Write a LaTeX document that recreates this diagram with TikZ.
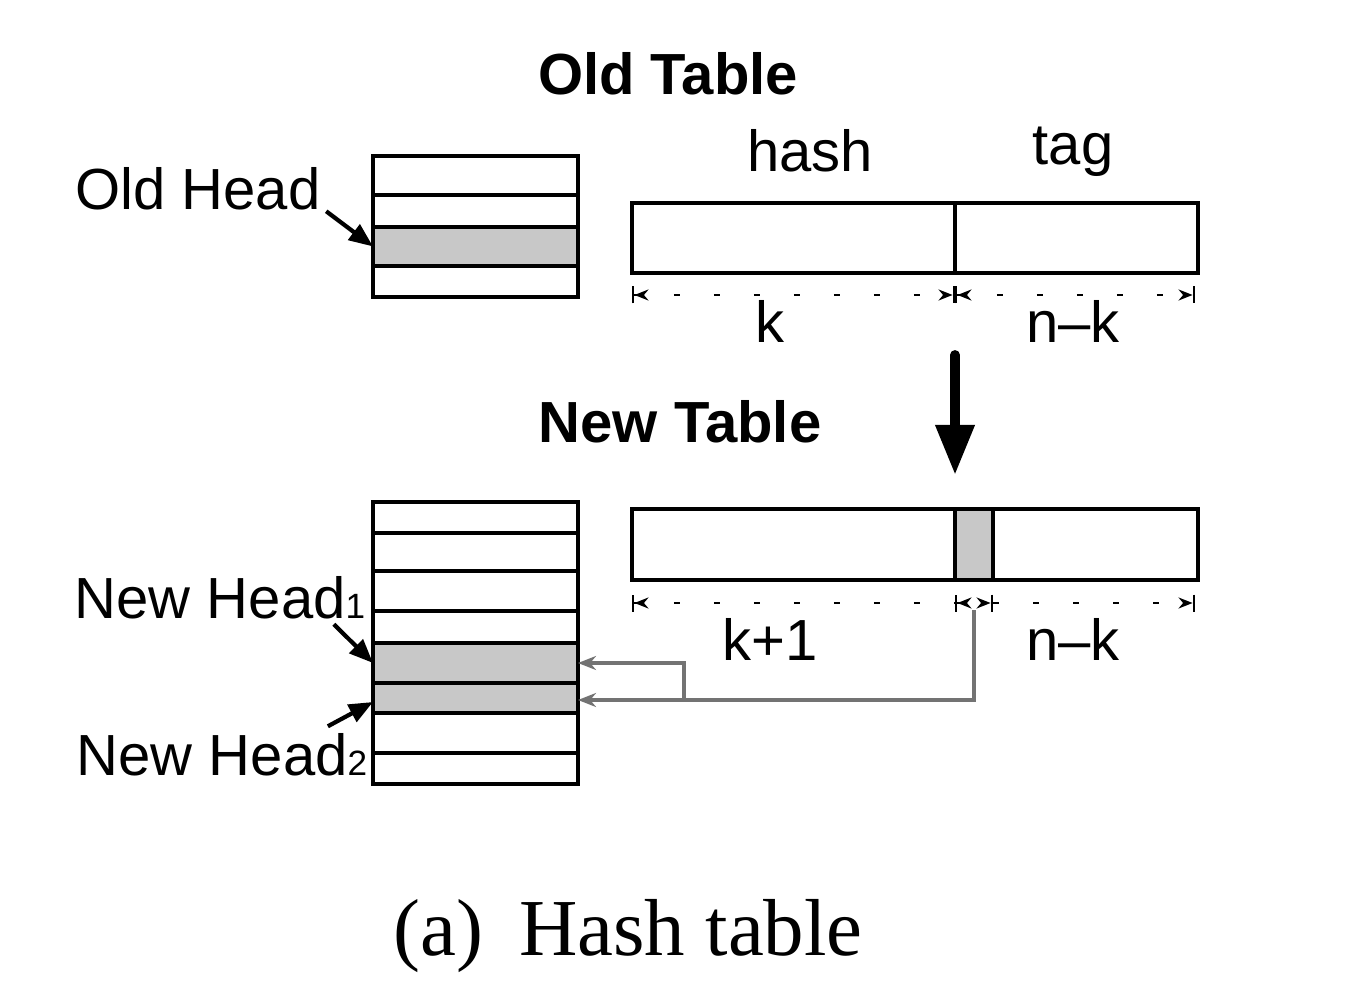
\documentclass[tikz,border=0pt]{standalone}
\usepackage{fontspec}
\setmainfont{Liberation Sans}
\newfontfamily\piefont{Liberation Serif}
\usepackage{tikz}
\usetikzlibrary{arrows.meta, positioning}
\definecolor{celda}{HTML}{C8C8C8}
\definecolor{grisflecha}{HTML}{737373}
\tikzset{
  every picture/.style={>=Stealth},
  fila/.style={draw, line width=1pt, minimum width=2.05cm, inner sep=0pt, outer sep=0pt},
  filagris/.style={fila, fill=celda},
  barra/.style={draw, line width=1pt, minimum height=0.70cm, inner sep=0pt, outer sep=0pt},
  etiq/.style={font=\fontsize{16.5}{19}\selectfont, inner sep=0pt, anchor=base},
  titulo/.style={etiq, font=\fontsize{16.5}{19}\selectfont\bfseries},
  cota/.style={line width=0.7pt, dash pattern=on 0.06cm off 0.34cm},
  puntaA/.style={{Bar[width=0.17cm]Stealth[length=0.14cm,width=0.11cm]}-},
  puntaB/.style={-{Stealth[length=0.14cm,width=0.11cm]Bar[width=0.17cm]}},
  puntaAB/.style={{Bar[width=0.17cm]Stealth[length=0.14cm,width=0.11cm]}-{Stealth[length=0.14cm,width=0.11cm]Bar[width=0.17cm]}},
  puntero/.style={-{Triangle[length=0.24cm,width=0.19cm]}, line width=1.2pt},
  gflecha/.style={-{Stealth[length=0.18cm,width=0.14cm]}, line width=0.9pt, grisflecha},
}

\begin{document}
\begin{tikzpicture}
  \useasboundingbox (0,0) rectangle (13.46,9.90);

  % tabla vieja
  \foreach \n/\t/\h/\s in {o1/8.34/0.39/fila, o2/7.95/0.32/fila, o3/7.63/0.39/filagris, o4/7.24/0.31/fila}
    \node[\s, minimum height=\h cm, anchor=north west] (\n) at (3.73,\t) {};
  \node[barra, minimum width=3.23cm, anchor=north west] (hashv) at (6.32,7.87) {};
  \node[barra, minimum width=2.43cm, right=0pt of hashv] (tagv) {};

  % tabla nueva
  \foreach \n/\t/\h/\s in {n1/4.88/0.31/fila, n2/4.57/0.38/fila, n3/4.19/0.40/fila, n4/3.79/0.32/fila,
                           n5/3.47/0.40/filagris, n6/3.07/0.30/filagris, n7/2.77/0.40/fila, n8/2.37/0.31/fila}
    \node[\s, minimum height=\h cm, anchor=north west] (\n) at (3.73,\t) {};
  \node[barra, minimum width=3.23cm, minimum height=0.71cm, anchor=north west] (hashn) at (6.32,4.81) {};
  \node[barra, minimum width=0.38cm, minimum height=0.71cm, fill=celda, right=0pt of hashn] (bit) {};
  \node[barra, minimum width=2.05cm, minimum height=0.71cm, right=0pt of bit] (tagn) {};

  % cotas
  \draw[cota, puntaAB] ([yshift=-0.22cm]hashv.south west) -- ([yshift=-0.22cm]hashv.south east);
  \draw[cota, puntaAB] ([yshift=-0.22cm]tagv.south west) -- ([yshift=-0.22cm,xshift=-0.03cm]tagv.south east);
  \draw[cota, puntaA] ([yshift=-0.23cm]hashn.south west) -- ([yshift=-0.23cm]hashn.south east);
  \draw[cota, puntaAB] ([yshift=-0.23cm]bit.south west) -- ([yshift=-0.23cm]bit.south east);
  \draw[cota, puntaB] ([yshift=-0.23cm]tagn.south west) -- ([yshift=-0.23cm,xshift=-0.03cm]tagn.south east);

  % textos
  \node[titulo] (tvieja) at (6.68,8.95) {Old Table};
  \node[titulo] (tnueva) at (6.80,5.47) {New Table};
  \node[etiq] (hash) at (8.10,8.18) {hash};
  \node[etiq] (tag) at (10.73,8.25) {tag};
  \node[etiq] (kv) at (7.70,6.47) {k};
  \node[etiq] (nkv) at (10.73,6.47) {n\textendash k};
  \node[etiq] (kn) at (7.70,3.30) {k+1};
  \node[etiq] (nkn) at (10.73,3.30) {n\textendash k};
  \node[etiq] (cvieja) at (1.98,7.80) {Old Head};
  \node[etiq] (c1) at (2.20,3.71) {New Head{\fontsize{10}{12}\selectfont 1}};
  \node[etiq] (c2) at (2.22,2.15) {New Head{\fontsize{10}{12}\selectfont 2}};
  \node[etiq, font=\piefont\fontsize{23}{27}\selectfont] (pie) at (6.28,0.35) {(a)\hspace{0.45em}Hash table};

  % flechas
  \draw[line width=2.8pt, line cap=round, -{Triangle[length=0.5cm,width=0.37cm]}]
    ([yshift=-0.82cm]hashv.south east) -- ([yshift=0.34cm]hashn.north east);
  \draw[puntero] ([xshift=0.05cm]cvieja.south east) -- (o3.west);
  \draw[puntero] ([xshift=-0.32cm,yshift=-0.04cm]c1.south east) -- (n5.west);
  \draw[puntero] ([xshift=-0.40cm,yshift=0.06cm]c2.north east) -- ([yshift=-0.04cm]n6.west);
  \draw[gflecha] ([yshift=-0.30cm]bit.south) |- ([yshift=-0.02cm]n6.east);
  \coordinate (junta) at ([xshift=1.06cm,yshift=-0.02cm]n6.east);
  \draw[gflecha] (junta) |- (n5.east);
\end{tikzpicture}
\end{document}
